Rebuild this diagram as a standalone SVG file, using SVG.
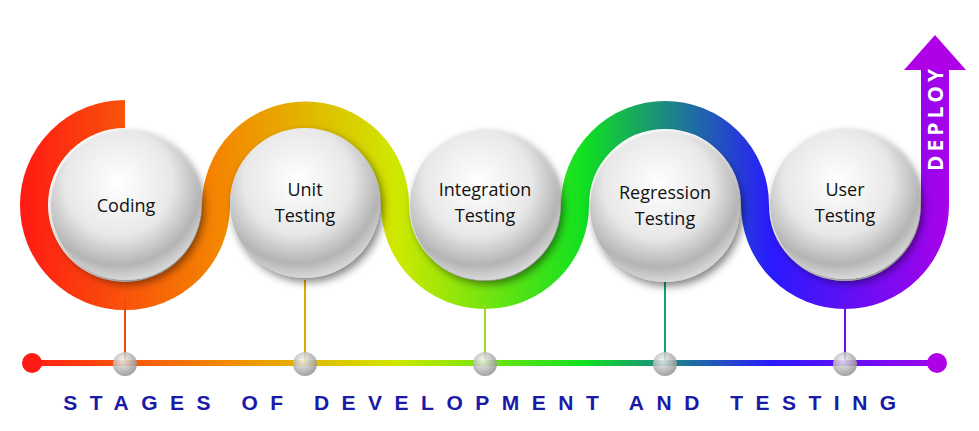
<svg xmlns="http://www.w3.org/2000/svg" width="979" height="431" viewBox="0 0 979 431">
<defs>
<linearGradient id="rb" gradientUnits="userSpaceOnUse" x1="20" y1="0" x2="960" y2="0">
<stop offset="0" stop-color="#ff1a14"/>
<stop offset="0.22" stop-color="#f38a00"/>
<stop offset="0.4" stop-color="#cfe800"/>
<stop offset="0.6" stop-color="#10e020"/>
<stop offset="0.8" stop-color="#2a1aff"/>
<stop offset="1" stop-color="#b000e8"/>
</linearGradient>
<radialGradient id="sp" cx="0.45" cy="0.35" r="0.65">
<stop offset="0" stop-color="#ffffff"/>
<stop offset="0.55" stop-color="#e8e8e8"/>
<stop offset="0.85" stop-color="#b4b4b4"/>
<stop offset="1" stop-color="#d8d8d8"/>
</radialGradient>
<radialGradient id="ss" cx="0.4" cy="0.35" r="0.7">
<stop offset="0" stop-color="#f4f4f4"/>
<stop offset="1" stop-color="#8a8a8a"/>
</radialGradient>
<filter id="sh" x="-20%" y="-20%" width="150%" height="150%">
<feGaussianBlur in="SourceAlpha" stdDeviation="4"/>
<feOffset dx="3" dy="4"/>
<feComponentTransfer><feFuncA type="linear" slope="0.5"/></feComponentTransfer>
<feMerge><feMergeNode/><feMergeNode in="SourceGraphic"/></feMerge>
</filter>
</defs>
<style>
.t{font-family:"Open Sans","Liberation Sans",Arial,sans-serif;font-size:18px;fill:#111;text-anchor:middle}
.ball{fill:url(#sp);filter:url(#sh)}
.mini{fill:url(#ss);opacity:0.85}
</style>
<g id="connectors">
<path d="M125,114 A91,91 0 1 0 216,205 A89,89 0 0 1 395,205 A90,90 0 0 0 575,205 A90,90 0 0 1 755,205 A90,90 0 0 0 935,205 L935,68" fill="none" stroke="url(#rb)" stroke-width="28"/>
<polygon points="935,35 966,70 904,70" fill="#b000e8"/>
<line x1="32" y1="363" x2="937" y2="363" stroke="url(#rb)" stroke-width="6"/>
<circle cx="32" cy="363" r="10" fill="#ff1a14"/>
<circle cx="937" cy="363" r="10" fill="#b000e8"/>
<line x1="125" y1="300" x2="125" y2="363" stroke="#f04a10" stroke-width="2"/>
<line x1="305" y1="280" x2="305" y2="363" stroke="#e0a800" stroke-width="2"/>
<line x1="485" y1="305" x2="485" y2="363" stroke="#a0d820" stroke-width="2"/>
<line x1="665" y1="282" x2="665" y2="363" stroke="#10a080" stroke-width="2"/>
<line x1="845" y1="305" x2="845" y2="363" stroke="#6a10f0" stroke-width="2"/>
<circle class="mini" cx="125" cy="364" r="12"/>
<circle class="mini" cx="305" cy="364" r="12"/>
<circle class="mini" cx="485" cy="364" r="12"/>
<circle class="mini" cx="665" cy="364" r="12"/>
<circle class="mini" cx="845" cy="364" r="12"/>
<text x="935" y="118" transform="rotate(-90 935 118)" font-family="'Open Sans','DejaVu Sans',sans-serif" font-weight="bold" font-size="21" fill="#fff" text-anchor="middle" dominant-baseline="central" letter-spacing="4">DEPLOY</text>
</g>
<g id="n1"><circle class="ball" cx="126" cy="205" r="75"/><text class="t" x="126" y="212">Coding</text></g>
<g id="n2"><circle class="ball" cx="305" cy="203" r="75"/><text class="t" x="305" y="196">Unit</text><text class="t" x="305" y="222">Testing</text></g>
<g id="n3"><circle class="ball" cx="485" cy="205" r="75"/><text class="t" x="485" y="196">Integration</text><text class="t" x="485" y="222">Testing</text></g>
<g id="n4"><circle class="ball" cx="665" cy="207" r="75"/><text class="t" x="665" y="199">Regression</text><text class="t" x="665" y="225">Testing</text></g>
<g id="n5"><circle class="ball" cx="845" cy="204" r="75"/><text class="t" x="845" y="196">User</text><text class="t" x="845" y="222">Testing</text></g>
<text x="486" y="410" font-family="'Liberation Sans',Arial,sans-serif" font-weight="bold" font-size="21" fill="#1a1aa8" text-anchor="middle" letter-spacing="12.5">STAGES OF DEVELOPMENT AND TESTING</text>
</svg>
